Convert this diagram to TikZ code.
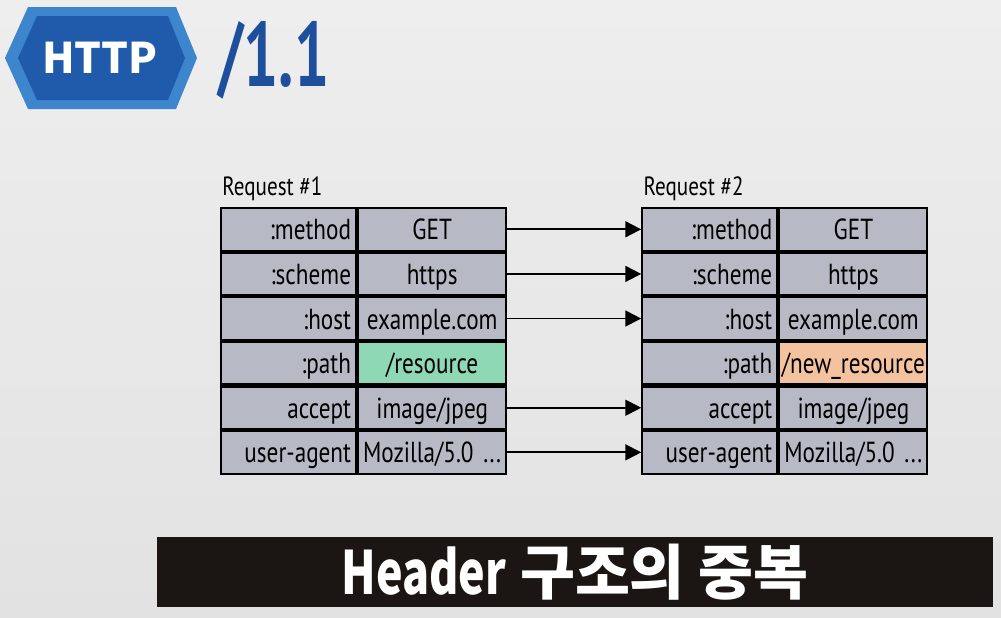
\documentclass[tikz,border=0pt]{standalone}
\usepackage{fontspec}
\setmainfont{PT Sans}[FakeStretch=0.8]
\newfontfamily\krfont{Noto Sans CJK KR}
\newfontfamily\verfont{PT Sans}[FakeStretch=0.68]
\usetikzlibrary{positioning, arrows.meta}

\definecolor{bgtop}{HTML}{EEEEEE}
\definecolor{bgbot}{HTML}{E2E2E2}
\definecolor{cellgray}{HTML}{B7B9C5}
\definecolor{pathgreen}{HTML}{8ED8B5}
\definecolor{pathorange}{HTML}{F3C29E}
\definecolor{hexlight}{HTML}{3D85CC}
\definecolor{hexdark}{HTML}{1F5BAA}
\definecolor{verblue}{HTML}{1E4F9C}
\definecolor{bannerbg}{HTML}{1B1614}

\tikzset{
cell/.style={draw=black, line width=1.2pt, fill=cellgray, minimum height=0.85cm,
  inner xsep=0.1cm, inner ysep=0pt, text height=12pt, text depth=0pt,
  font=\fontsize{16.5}{18}\selectfont}, % one box of a header table
keycell/.style={cell, text width=2.5cm, align=right}, % header name, left column
valcell/.style={cell, inner xsep=0pt, text width=2.96cm, align=center}, % header value, right column
reqlabel/.style={font=\fontsize{15}{17}\selectfont, inner sep=0pt}, % title over a table
flow/.style={-{Triangle[length=9pt, width=9pt]}, line width=1.1pt}, % same header sent again
}

\begin{document}
\begin{tikzpicture}
    \useasboundingbox (0,0) rectangle (20.02,-12.34);
    \shade[top color=bgtop, bottom color=bgbot] (0,0) rectangle (20.02,-12.34);

    % HTTP badge
    \fill[hexlight] (0.10,-1.16) -- (0.56,-0.14) -- (3.52,-0.14) -- (3.94,-1.16)
        -- (3.52,-2.18) -- (0.56,-2.18) -- cycle;
    \fill[hexdark] (0.36,-1.16) -- (0.74,-0.32) -- (3.36,-0.32) -- (3.70,-1.16)
        -- (3.36,-2.00) -- (0.74,-2.00) -- cycle;
    \node[text=white, font=\krfont\bfseries\fontsize{24}{24}\selectfont] (http) at (2.0,-1.16) {HTTP};
    \node[text=verblue, font=\verfont\bfseries\fontsize{52}{52}\selectfont, anchor=west, inner sep=0pt] (ver) at (4.36,-1.2) {/1.1};

    % Request #1
    \node[keycell] (k1) at (5.771,-4.586) {:method};
    \node[keycell, below=0pt of k1] (k2) {:scheme};
    \node[keycell, below=0pt of k2] (k3) {:host};
    \node[keycell, below=0pt of k3] (k4) {:path};
    \node[keycell, below=0pt of k4] (k5) {accept};
    \node[keycell, below=0pt of k5] (k6) {user-agent};
    \node[valcell, right=0pt of k1] (v1) {GET};
    \node[valcell, right=0pt of k2] (v2) {https};
    \node[valcell, right=0pt of k3] (v3) {example.com};
    \node[valcell, right=0pt of k4, fill=pathgreen] (v4) {/resource};
    \node[valcell, right=0pt of k5] (v5) {image/jpeg};
    \node[valcell, right=0pt of k6] (v6) {Mozilla/5.0~...};
    \node[reqlabel, anchor=base west] (req1) at ([shift={(0.04,0.24)}]k1.north west) {Request \#1};

    % Request #2
    \node[keycell, right=2.68cm of v1] (l1) {:method};
    \node[keycell, below=0pt of l1] (l2) {:scheme};
    \node[keycell, below=0pt of l2] (l3) {:host};
    \node[keycell, below=0pt of l3] (l4) {:path};
    \node[keycell, below=0pt of l4] (l5) {accept};
    \node[keycell, below=0pt of l5] (l6) {user-agent};
    \node[valcell, right=0pt of l1] (w1) {GET};
    \node[valcell, right=0pt of l2] (w2) {https};
    \node[valcell, right=0pt of l3] (w3) {example.com};
    \node[valcell, right=0pt of l4, fill=pathorange] (w4) {/new\_resource};
    \node[valcell, right=0pt of l5] (w5) {image/jpeg};
    \node[valcell, right=0pt of l6] (w6) {Mozilla/5.0~...};
    \node[reqlabel, anchor=base west] (req2) at ([shift={(0.04,0.24)}]l1.north west) {Request \#2};

    \draw
    (v1) edge[flow] (l1)
    (v2) edge[flow] (l2)
    (v3) edge[flow] (l3)
    (v5) edge[flow] (l5)
    (v6) edge[flow] (l6);

    % caption bar
    \node[fill=bannerbg, minimum width=16.72cm, minimum height=1.4cm, inner sep=0pt,
        text=white, font=\krfont\bfseries\fontsize{34}{34}\selectfont] (banner) at (11.5,-11.44)
        {{\addfontfeature{FakeStretch=0.75}Header} 구조의 중복};
\end{tikzpicture}
\end{document}
